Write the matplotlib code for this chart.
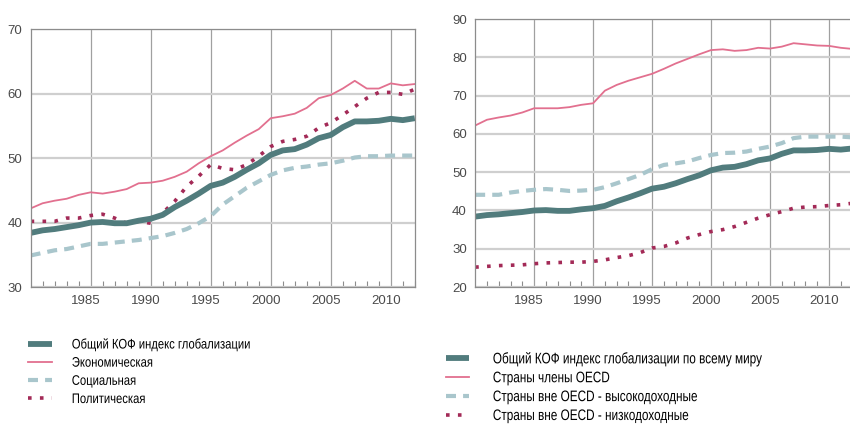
import numpy as np
import matplotlib
matplotlib.use("Agg")
from matplotlib import pyplot as plt
from matplotlib.lines import Line2D
import matplotlib.transforms as mtransforms
from matplotlib import patheffects

years = list(range(1980, 2013))

# общий индекс (одинаковый на обоих графиках)
kof_total = [38.4, 38.8, 39.0, 39.3, 39.6, 40.0, 40.1, 39.9, 39.9, 40.3, 40.6,
             41.2, 42.4, 43.4, 44.5, 45.7, 46.2, 47.1, 48.2, 49.2, 50.5,
             51.2, 51.4, 52.1, 53.1, 53.6, 54.8, 55.7, 55.7, 55.8, 56.1, 55.9, 56.2]
kof_econ = [42.2, 43.0, 43.4, 43.7, 44.3, 44.7, 44.5, 44.8, 45.2, 46.1, 46.2,
            46.5, 47.1, 47.9, 49.2, 50.3, 51.2, 52.4, 53.5, 54.5, 56.2,
            56.5, 56.9, 57.8, 59.3, 59.8, 60.8, 62.0, 60.8, 60.8, 61.6, 61.3, 61.5]
kof_social = [34.9, 35.3, 35.7, 35.9, 36.3, 36.7, 36.7, 36.9, 37.1, 37.3, 37.6,
              37.9, 38.4, 39.0, 39.9, 41.0, 42.8, 44.1, 45.4, 46.4, 47.4,
              48.1, 48.5, 48.7, 49.0, 49.2, 49.6, 50.1, 50.3, 50.3, 50.4, 50.4, 50.4]
kof_polit = [40.2, 40.2, 40.2, 40.7, 40.7, 41.1, 41.3, 40.7, 39.9, 40.2, 39.9,
             41.5, 43.3, 45.6, 47.2, 49.0, 48.4, 48.2, 49.0, 50.3, 51.8,
             52.6, 52.9, 53.4, 54.7, 55.5, 56.7, 58.0, 59.3, 60.2, 60.2, 59.9, 60.7]

oecd = [62.2, 63.7, 64.3, 64.8, 65.6, 66.7, 66.7, 66.7, 67.0, 67.6, 68.0,
        71.3, 72.8, 73.9, 74.8, 75.7, 77.0, 78.4, 79.6, 80.8, 81.9,
        82.1, 81.7, 81.9, 82.5, 82.3, 82.8, 83.7, 83.4, 83.1, 83.0, 82.5, 82.2]
non_oecd_high = [44.1, 44.1, 44.1, 44.7, 45.1, 45.4, 45.6, 45.4, 45.1, 45.2, 45.4,
                 46.1, 47.1, 48.2, 49.3, 50.8, 51.9, 52.3, 52.8, 53.7, 54.5,
                 55.0, 55.1, 55.4, 56.1, 56.7, 57.6, 58.9, 59.3, 59.3, 59.3, 59.3, 59.1]
non_oecd_low = [25.2, 25.4, 25.6, 25.7, 25.8, 26.1, 26.3, 26.4, 26.5, 26.5, 26.7,
                27.1, 27.7, 28.2, 29.0, 30.2, 30.6, 31.5, 32.8, 33.7, 34.5,
                35.0, 35.8, 36.9, 38.0, 38.9, 39.7, 40.6, 40.9, 41.0, 41.3, 41.5, 41.9]

left_labels = ["Общий КОФ индекс глобализации", "Экономическая",
               "Социальная", "Политическая"]
right_labels = ["Общий КОФ индекс глобализации по всему миру", "Страны члены OECD",
                "Страны вне OECD - высокодоходные", "Страны вне OECD - низкодоходные"]

TEAL = "#517c7d"
PINK = "#e2708f"
LIGHT = "#a9c6cc"
MAROON = "#a32a57"

styles = [
    dict(color=TEAL, lw=4.2, solid_capstyle="butt"),
    dict(color=PINK, lw=1.3),
    dict(color=LIGHT, lw=3.0, dashes=(2.4, 1.7), dash_capstyle="butt"),
    dict(color=MAROON, lw=2.6, dashes=(1.0, 2.3), dash_capstyle="butt"),
]

plt.rcParams["font.family"] = ["Liberation Sans", "DejaVu Sans"]


class Condense(patheffects.AbstractPathEffect):
    """сжимает текст по горизонтали (узкий шрифт легенды)"""

    def __init__(self, sx):
        super().__init__()
        self.sx = sx

    def draw_path(self, renderer, gc, tpath, affine, rgbFace=None):
        x0 = affine.get_matrix()[0, 2]
        squeeze = mtransforms.Affine2D().translate(-x0, 0).scale(self.sx, 1).translate(x0, 0)
        renderer.draw_path(gc, tpath, affine + squeeze, rgbFace)


fig = plt.figure(figsize=(8.5, 4.24), dpi=100)
ax1 = fig.add_axes([0.036, 0.323, 0.452, 0.608])
ax2 = fig.add_axes([0.559, 0.323, 0.444, 0.632])


def style_axes(ax, ylo, yhi):
    ax.set_xlim(1980, 2012)
    ax.set_ylim(ylo, yhi)
    ax.set_xticks(range(1985, 2011, 5))
    ax.set_xticks(range(1981, 2013), minor=True)
    ax.set_yticks(range(ylo, yhi + 1, 10))
    ax.grid(axis="x", which="major", color="#a0a0a0", lw=0.9)
    ax.grid(axis="y", which="major", color="#cfcfcf", lw=1.6)
    ax.set_axisbelow(True)
    for s in ax.spines.values():
        s.set_color("#8c8c8c")
        s.set_linewidth(0.9)
    ax.tick_params(axis="x", which="major", length=0, pad=6, labelsize=9.5,
                   labelcolor="#4a4a4a")
    ax.tick_params(axis="x", which="minor", direction="in", length=4,
                   color="#8c8c8c", width=0.8)
    ax.tick_params(axis="y", length=0, pad=6, labelsize=9.5, labelcolor="#4a4a4a")
    offset = mtransforms.ScaledTranslation(-5 / 100, 0, fig.dpi_scale_trans)
    for lab in ax.get_xticklabels():
        lab.set_transform(lab.get_transform() + offset)


left_series = [kof_total, kof_econ, kof_social, kof_polit]
right_series = [kof_total, oecd, non_oecd_high, non_oecd_low]

# рисуем снизу вверх, чтобы общий индекс был поверх
for i in [2, 1, 3, 0]:
    ax1.plot(years, left_series[i], **styles[i])
    ax2.plot(years, right_series[i], **styles[i])

style_axes(ax1, 30, 70)
style_axes(ax2, 20, 90)

handles = [Line2D([], [], **s) for s in styles]

leg1 = fig.legend(handles, left_labels, loc="upper left", bbox_to_anchor=(0.033, 0.205),
                  frameon=False, fontsize=10,
                  handlelength=1.7, handletextpad=1.45, labelspacing=0.3,
                  borderpad=0, borderaxespad=0)
for t in leg1.get_texts():
    t.set_path_effects([Condense(0.81)])

leg2 = fig.legend(handles, right_labels, loc="upper left", bbox_to_anchor=(0.525, 0.17),
                  frameon=False, fontsize=11,
                  handlelength=1.5, handletextpad=1.55, labelspacing=0.32,
                  borderpad=0, borderaxespad=0)
for t in leg2.get_texts():
    t.set_path_effects([Condense(0.77)])

fig.savefig("out.png", dpi=100)
